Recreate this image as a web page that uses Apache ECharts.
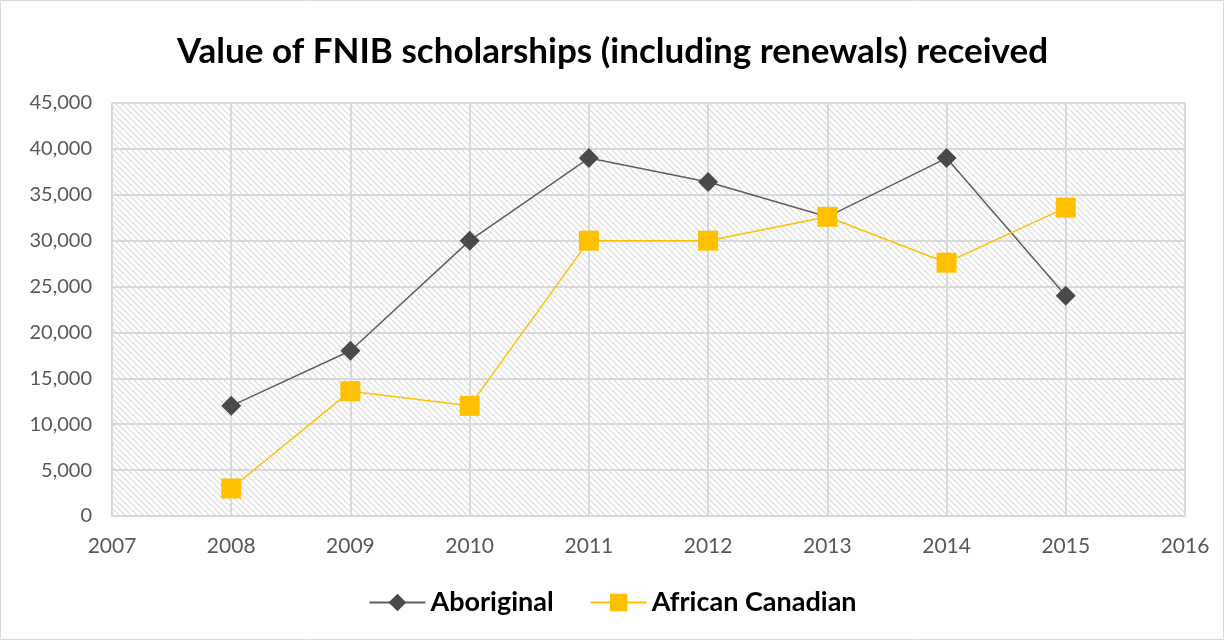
<!DOCTYPE html>
<html>
<head>
<meta charset="utf-8">
<script src="https://cdn.jsdelivr.net/npm/echarts@6/dist/echarts.min.js"></script>
<style>
  html, body { margin: 0; padding: 0; background: #fff; }
  #chart { width: 1225px; height: 641px; }
</style>
</head>
<body>
<div id="chart"></div>
<script>
// data
var years = [2008, 2009, 2010, 2011, 2012, 2013, 2014, 2015];
var aboriginal = [12000, 18000, 30000, 39000, 36400, 32600, 39000, 24000];
var africanCanadian = [3000, 13600, 12000, 30000, 30000, 32600, 27600, 33600];

function pairs(xs, ys) {
  var out = [];
  for (var i = 0; i < xs.length; i++) out.push([xs[i], ys[i]]);
  return out;
}

// diagonal hatch for the plot area
var hatch = document.createElement('canvas');
hatch.width = 6; hatch.height = 6;
var ctx = hatch.getContext('2d');
ctx.fillStyle = '#ffffff';
ctx.fillRect(0, 0, 6, 6);
ctx.strokeStyle = '#dadada';
ctx.lineWidth = 1.2;
ctx.beginPath();
ctx.moveTo(0, 0); ctx.lineTo(6, 6);
ctx.moveTo(-3, 3); ctx.lineTo(3, 9);
ctx.moveTo(3, -3); ctx.lineTo(9, 3);
ctx.stroke();

var mychart = echarts.init(document.getElementById('chart'));
mychart.setOption({
  backgroundColor: '#fff',
  animation: false,
  title: {
    text: 'Value of FNIB scholarships (including renewals) received',
    left: 'center',
    top: 29,
    textStyle: { fontFamily: 'Lato', fontWeight: 'bold', fontSize: 35, color: '#000' }
  },
  graphic: [{
    type: 'rect',
    shape: { x: 0.5, y: 0.5, width: 1223, height: 639 },
    style: { fill: 'none', stroke: '#d9d9d9', lineWidth: 1 },
    silent: true
  }],
  legend: {
    bottom: 20,
    left: 'center',
    itemGap: 36,
    itemWidth: 56,
    itemHeight: 22,
    textStyle: { fontFamily: 'Lato', fontWeight: 'bold', fontSize: 27, color: '#000' },
    data: ['Aboriginal', 'African Canadian']
  },
  grid: {
    left: 112, right: 40, top: 103, bottom: 125,
    show: true,
    borderWidth: 0,
    backgroundColor: { image: hatch, repeat: 'repeat' }
  },
  xAxis: {
    type: 'value',
    min: 2007, max: 2016, interval: 1,
    axisLine: { show: true, lineStyle: { color: '#d9d9d9', width: 2 } },
    axisTick: { show: false },
    axisLabel: {
      color: '#595959', fontSize: 21, fontFamily: 'Lato', margin: 20,
      formatter: function (v) { return String(v); }
    },
    splitLine: { show: true, lineStyle: { color: '#d9d9d9', width: 2 } }
  },
  yAxis: {
    type: 'value',
    min: 0, max: 45000, interval: 5000,
    axisLine: { show: false },
    axisTick: { show: false },
    axisLabel: { color: '#595959', fontSize: 20, fontFamily: 'Lato', margin: 20 },
    splitLine: { show: true, lineStyle: { color: '#d9d9d9', width: 2 } }
  },
  series: [{
    name: 'Aboriginal',
    type: 'line',
    data: pairs(years, aboriginal),
    symbol: 'diamond',
    symbolSize: 20,
    lineStyle: { color: '#5f5f5f', width: 1.5 },
    itemStyle: { color: '#4a4a4a' }
  }, {
    name: 'African Canadian',
    type: 'line',
    data: pairs(years, africanCanadian),
    symbol: 'rect',
    symbolSize: 20,
    lineStyle: { color: '#ffc000', width: 1.5 },
    itemStyle: { color: '#ffc000' }
  }]
});
</script>
</body>
</html>
